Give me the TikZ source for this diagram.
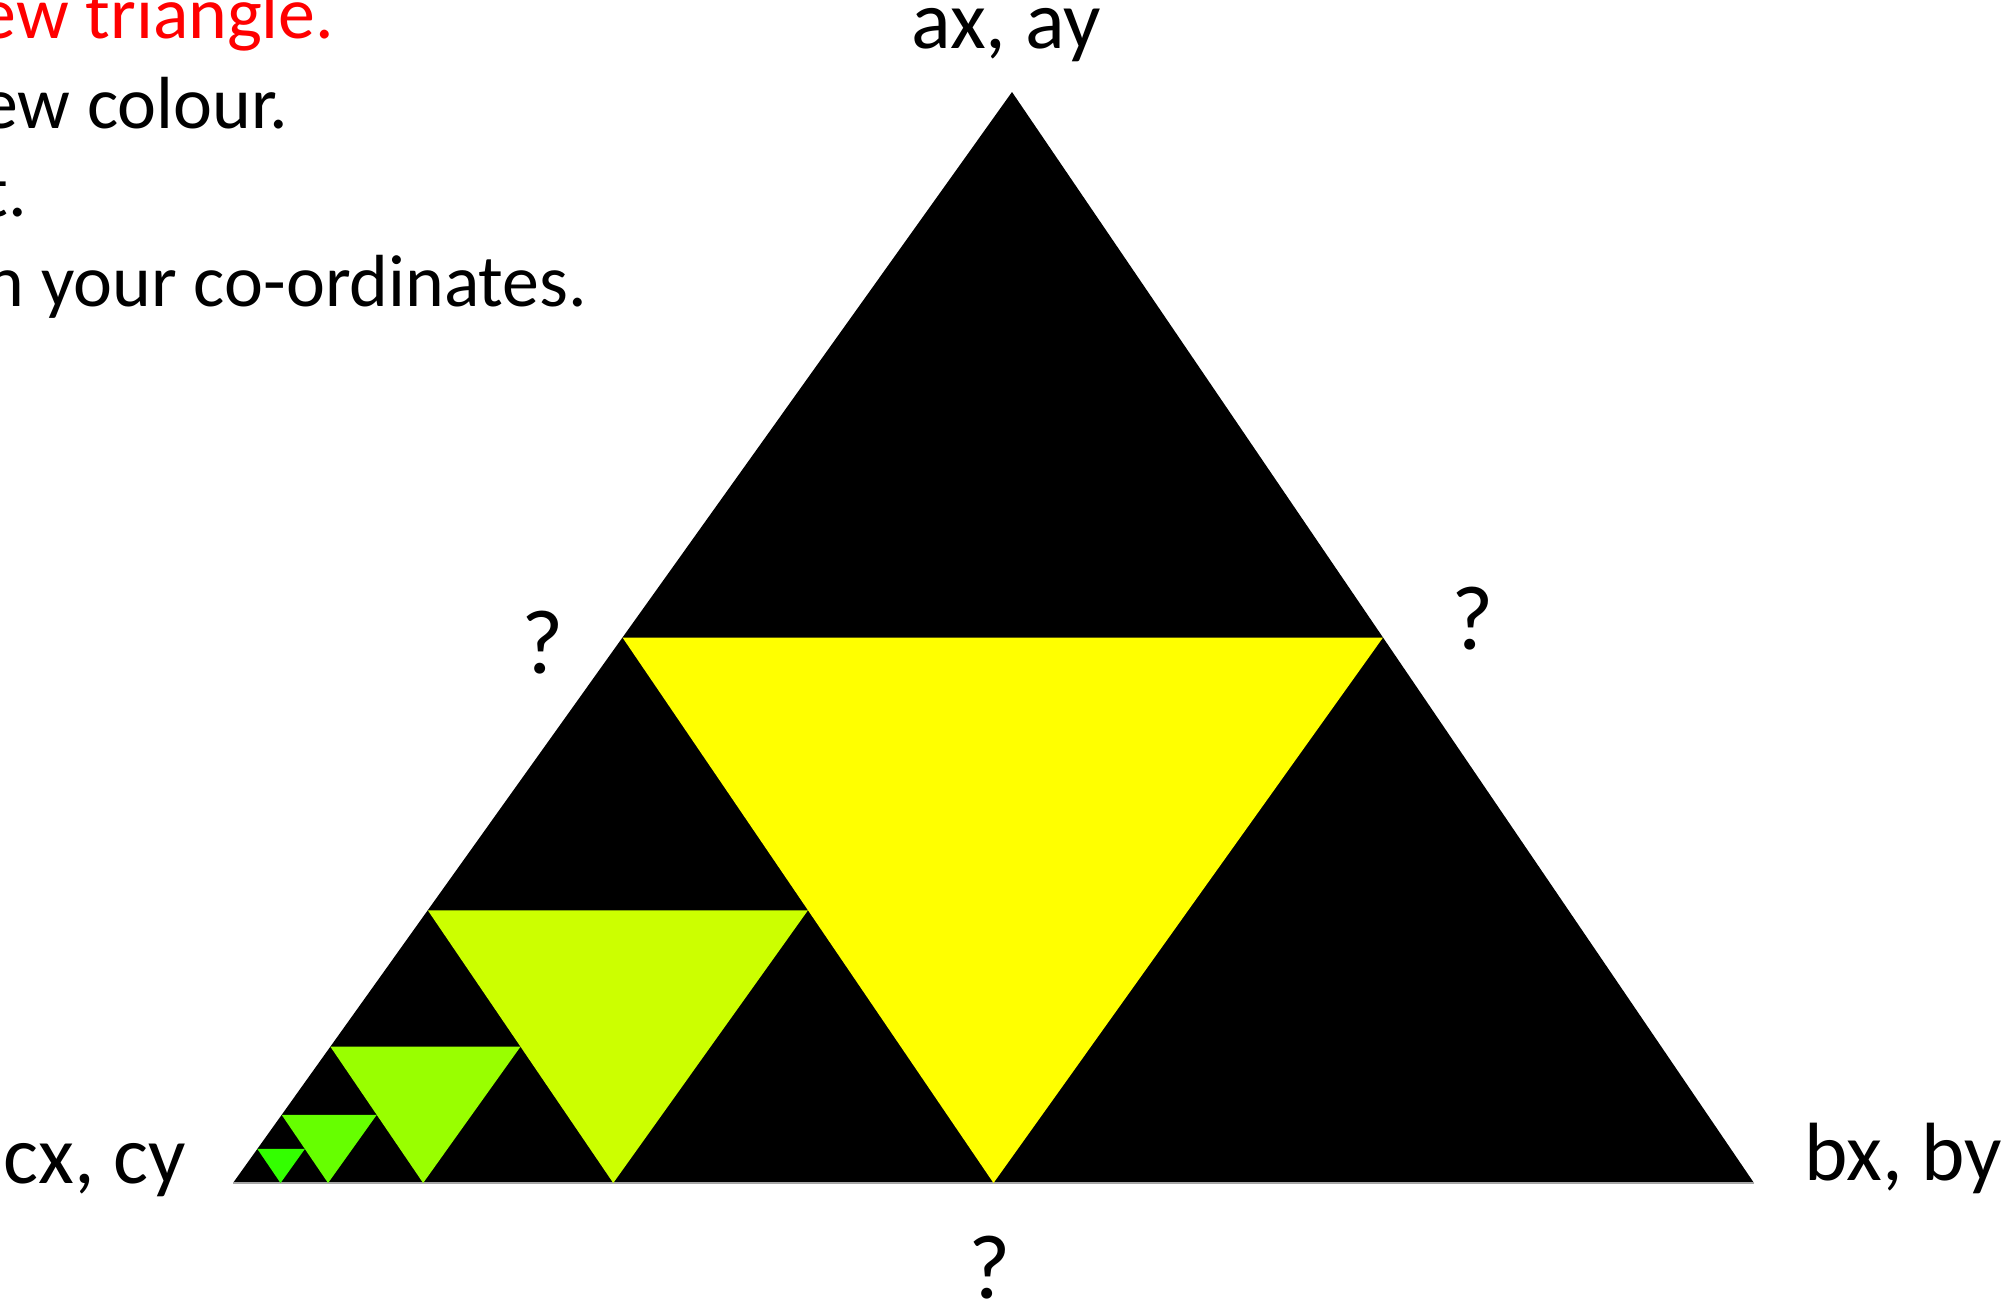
\documentclass[tikz,border=0pt]{standalone}
\usepackage{fontspec}
\setmainfont{Carlito}
\usetikzlibrary{calc}
\definecolor{y0}{HTML}{FFFF00}
\definecolor{y1}{HTML}{CCFF00}
\definecolor{y2}{HTML}{99FF00}
\definecolor{y3}{HTML}{66FF00}
\definecolor{y4}{HTML}{33FF00}
\definecolor{txtred}{HTML}{FF0000}
\tikzset{
  lbl/.style={inner sep=0pt, font=\fontsize{23.5}{28}\selectfont},
  qmark/.style={inner sep=0pt, anchor=base, font=\fontsize{26}{30}\selectfont},
  linetxt/.style={inner sep=0pt, anchor=base east, font=\fontsize{21}{25}\selectfont},
}
\begin{document}
\begin{tikzpicture}[x=0.01cm, y=-0.01cm]
\useasboundingbox (0,0) rectangle (2003,1305);
\clip (0,0) rectangle (2003,1305);
% outer triangle vertices
\coordinate (A) at (1012,92);
\coordinate (B) at (1754,1183);
\coordinate (C) at (233,1183);
\fill[black] (A) -- (B) -- (C) -- cycle;
\draw[gray!70, line width=0.6pt] (C) -- (B);
% level 1
\coordinate (ab) at ($(A)!0.5!(B)$);
\coordinate (ac) at ($(A)!0.5!(C)$);
\coordinate (bc) at ($(B)!0.5!(C)$);
\fill[y0] (ac) -- (ab) -- (bc) -- cycle;
% level 2 (triangle C, ac, bc)
\coordinate (p1) at ($(ac)!0.5!(C)$);
\coordinate (p2) at ($(ac)!0.5!(bc)$);
\coordinate (p3) at ($(C)!0.5!(bc)$);
\fill[y1] (p1) -- (p2) -- (p3) -- cycle;
% level 3 (triangle C, p1, p3)
\coordinate (q1) at ($(p1)!0.5!(C)$);
\coordinate (q2) at ($(p1)!0.5!(p3)$);
\coordinate (q3) at ($(C)!0.5!(p3)$);
\fill[y2] (q1) -- (q2) -- (q3) -- cycle;
% level 4 (triangle C, q1, q3)
\coordinate (r1) at ($(q1)!0.5!(C)$);
\coordinate (r2) at ($(q1)!0.5!(q3)$);
\coordinate (r3) at ($(C)!0.5!(q3)$);
\fill[y3] (r1) -- (r2) -- (r3) -- cycle;
% level 5 (triangle C, r1, r3)
\coordinate (s1) at ($(r1)!0.5!(C)$);
\coordinate (s2) at ($(r1)!0.5!(r3)$);
\coordinate (s3) at ($(C)!0.5!(r3)$);
\fill[y4] (s1) -- (s2) -- (s3) -- cycle;
% vertex labels
\node[lbl, anchor=base] (la) at (1006,48) {ax, ay};
\node[lbl, anchor=base west] (lb) at (1804,1180) {bx, by};
\node[lbl, anchor=base west] (lc) at (3,1183) {cx, cy};
\node[qmark] (qac) at (543,673) {?};
\node[qmark] (qab) at (1473,649) {?};
\node[qmark] (qbc) at (990,1298) {?};
% clipped instruction lines
\node[linetxt, text=txtred] (t1) at (335,38) {ew triangle.};
\node[linetxt] (t2) at (289,128) {ew colour.};
\node[linetxt] (t3) at (28,216) {t.};
\node[linetxt] (t4) at (588,306) {n your co-ordinates.};
\end{tikzpicture}
\end{document}
